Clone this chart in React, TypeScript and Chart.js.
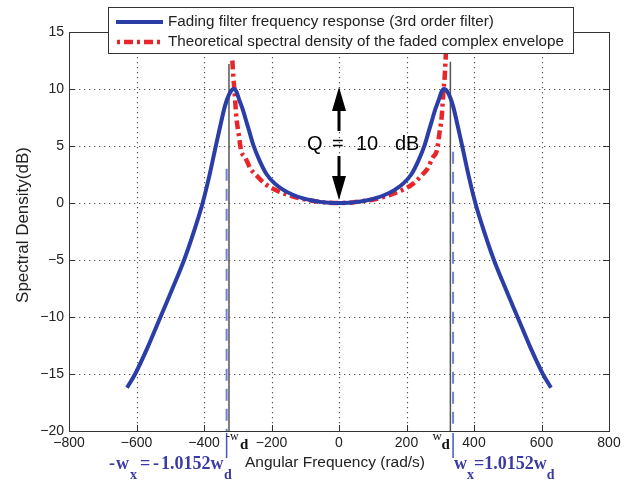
import React, { useEffect, useRef } from "react";
import { Chart, registerables } from "chart.js";

Chart.register(...registerables);

// Fading filter frequency response (3rd order filter)
const blueX = [-628, -604, -566, -529, -494, -459, -431, -404, -384, -365, -350, -338, -326, -316, -310, -303, -295, -285, -278, -266, -254, -235, -214, -190, -165, -135, -106, -80, -55, -28, 0, 28, 55, 80, 106, 135, 165, 190, 214, 235, 254, 266, 278, 285, 295, 303, 310, 316, 326, 338, 350, 365, 384, 404, 431, 459, 494, 529, 566, 604, 628];
const blueY = [-16.2, -15, -12.6, -10, -7.55, -5, -2.6, 0, 2.4, 5, 7.0, 8.5, 9.5, 9.95, 10, 9.7, 9.0, 8.2, 7.5, 6.3, 5.1, 3.7, 2.5, 1.7, 1.15, 0.7, 0.4, 0.22, 0.1, 0.03, 0, 0.03, 0.1, 0.22, 0.4, 0.7, 1.15, 1.7, 2.5, 3.7, 5.1, 6.3, 7.5, 8.2, 9.0, 9.7, 10, 9.95, 9.5, 8.5, 7.0, 5, 2.4, 0, -2.6, -5, -7.55, -10, -12.6, -15, -16.2];

// Theoretical spectral density of the faded complex envelope
const redX = [-316, -313, -310, -304, -297, -290, -278, -262, -244, -220, -185, -150, -116, -80, -40, 0, 40, 80, 116, 150, 185, 220, 244, 262, 278, 290, 297, 304, 310, 313, 317];
const redY = [12.5, 11, 10, 7.5, 6, 4.6, 4.0, 3.0, 2.4, 1.7, 1.1, 0.7, 0.4, 0.2, 0.05, 0, 0.05, 0.2, 0.4, 0.7, 1.1, 1.7, 2.4, 3.0, 4.0, 4.6, 6, 7.5, 10, 11, 13.3];

const seriesLabels = [
  "Fading filter frequency response (3rd order filter)",
  "Theoretical spectral density of the faded complex envelope",
];

// marker lines: -wd, wd (gray) and -wx, wx (blue dashed)
const wdX = [-326, 330];
const wdTop = [12.2, 12.4];
const wxX = [-333, 338];
const wxTop = [3, 4.5];

const xMin = -800, xMax = 800, xStep = 200;
const yMin = -20, yMax = 15, yStep = 5;

const BLUE = "#2b3ea8";
const RED = "#e8262a";
const SANS = "'Liberation Sans', Arial, Helvetica, sans-serif";
const SERIF = "'Liberation Serif', 'Times New Roman', serif";

const minus = (v: number) => String(v).replace("-", "\u2212");

const annot = {
  id: "annot",
  beforeDatasetsDraw(chart: any) {
    const { ctx, chartArea: a, scales } = chart;
    const x = scales.x, y = scales.y;
    ctx.save();
    // dotted grid
    ctx.strokeStyle = "#555";
    ctx.lineWidth = 1.2;
    ctx.setLineDash([1.3, 3.7]);
    x.ticks.forEach((t: any) => {
      if (t.value <= xMin || t.value >= xMax) return;
      const px = Math.round(x.getPixelForValue(t.value)) + 0.5;
      ctx.beginPath(); ctx.moveTo(px, a.top); ctx.lineTo(px, a.bottom); ctx.stroke();
    });
    y.ticks.forEach((t: any) => {
      if (t.value <= yMin || t.value >= yMax) return;
      const py = Math.round(y.getPixelForValue(t.value)) + 0.5;
      ctx.beginPath(); ctx.moveTo(a.left, py); ctx.lineTo(a.right, py); ctx.stroke();
    });
    // wx dashed blue lines
    ctx.setLineDash([12, 8]);
    ctx.strokeStyle = "#7282d2";
    ctx.lineWidth = 2;
    wxX.forEach((v, i) => {
      const px = x.getPixelForValue(v);
      ctx.beginPath(); ctx.moveTo(px, y.getPixelForValue(wxTop[i])); ctx.lineTo(px, a.bottom); ctx.stroke();
    });
    ctx.setLineDash([]);
    ctx.strokeStyle = "#4656c0";
    ctx.lineWidth = 1.5;
    wxX.forEach((v) => {
      const px = x.getPixelForValue(v);
      ctx.beginPath(); ctx.moveTo(px, a.bottom + 2); ctx.lineTo(px, a.bottom + 27); ctx.stroke();
    });
    // wd gray lines
    ctx.strokeStyle = "#555";
    ctx.lineWidth = 1.5;
    wdX.forEach((v, i) => {
      const px = x.getPixelForValue(v);
      ctx.beginPath(); ctx.moveTo(px, y.getPixelForValue(wdTop[i])); ctx.lineTo(px, a.bottom); ctx.stroke();
    });
    ctx.restore();
  },
  afterDraw(chart: any) {
    const { ctx, chartArea: a, scales } = chart;
    const x = scales.x, y = scales.y;
    ctx.save();
    // axes box
    ctx.strokeStyle = "#333";
    ctx.lineWidth = 1;
    ctx.strokeRect(Math.round(a.left) + 0.5, Math.round(a.top) + 0.5, Math.round(a.right - a.left), Math.round(a.bottom - a.top));
    // inward ticks
    const tl = 6;
    ctx.beginPath();
    x.ticks.forEach((t: any) => {
      const px = Math.round(x.getPixelForValue(t.value)) + 0.5;
      ctx.moveTo(px, a.bottom); ctx.lineTo(px, a.bottom - tl);
      ctx.moveTo(px, a.top); ctx.lineTo(px, a.top + tl);
    });
    y.ticks.forEach((t: any) => {
      const py = Math.round(y.getPixelForValue(t.value)) + 0.5;
      ctx.moveTo(a.left, py); ctx.lineTo(a.left + tl, py);
      ctx.moveTo(a.right, py); ctx.lineTo(a.right - tl, py);
    });
    ctx.stroke();

    // Q annotation arrows
    const ax = x.getPixelForValue(0);
    const topY = y.getPixelForValue(10) - 2;
    const botY = y.getPixelForValue(0) - 3;
    ctx.fillStyle = "#000";
    ctx.strokeStyle = "#000";
    ctx.lineWidth = 3;
    ctx.beginPath(); ctx.moveTo(ax, topY + 22); ctx.lineTo(ax, topY + 44); ctx.stroke();
    ctx.beginPath(); ctx.moveTo(ax, topY); ctx.lineTo(ax - 7, topY + 24); ctx.lineTo(ax + 7, topY + 24); ctx.closePath(); ctx.fill();
    ctx.beginPath(); ctx.moveTo(ax, botY - 44); ctx.lineTo(ax, botY - 22); ctx.stroke();
    ctx.beginPath(); ctx.moveTo(ax, botY); ctx.lineTo(ax - 7, botY - 24); ctx.lineTo(ax + 7, botY - 24); ctx.closePath(); ctx.fill();
    ctx.font = `20px ${SANS}`;
    ctx.textAlign = "left";
    ctx.textBaseline = "middle";
    const qy = y.getPixelForValue(5) - 2;
    ctx.fillText("Q", ax - 32, qy);
    ctx.fillText("=", ax - 7, qy);
    ctx.fillText("10", ax + 17, qy);
    ctx.fillText("dB", ax + 56, qy);

    // legend
    const lx = 108, ly = 7, lw = 465, lh = 46;
    ctx.fillStyle = "#fff";
    ctx.fillRect(lx, ly, lw, lh);
    ctx.strokeStyle = "#333";
    ctx.lineWidth = 1;
    ctx.strokeRect(lx + 0.5, ly + 0.5, lw, lh);
    ctx.lineWidth = 4;
    ctx.strokeStyle = BLUE;
    ctx.beginPath(); ctx.moveTo(116, 22); ctx.lineTo(163, 22); ctx.stroke();
    ctx.strokeStyle = RED;
    ctx.lineWidth = 4.5;
    ctx.setLineDash([9, 4, 3, 4]);
    ctx.lineDashOffset = 12;
    ctx.beginPath(); ctx.moveTo(116, 42); ctx.lineTo(163, 42); ctx.stroke();
    ctx.setLineDash([]);
    ctx.fillStyle = "#222";
    ctx.font = `15.2px ${SANS}`;
    ctx.fillText(seriesLabels[0], 168, 22);
    ctx.fillText(seriesLabels[1], 168, 42);

    // axis titles
    ctx.fillStyle = "#222";
    ctx.font = `15.5px ${SANS}`;
    ctx.textAlign = "center";
    ctx.fillText("Angular Frequency (rad/s)", 335, 463);
    ctx.save();
    ctx.translate(23, 225);
    ctx.rotate(-Math.PI / 2);
    ctx.font = `17px ${SANS}`;
    ctx.fillText("Spectral Density(dB)", 0, 0);
    ctx.restore();

    // -wd / wd labels
    ctx.textAlign = "left";
    ctx.textBaseline = "alphabetic";
    ctx.fillStyle = "#111";
    const lwd = x.getPixelForValue(wdX[0]);
    const rwd = x.getPixelForValue(wdX[1]);
    ctx.font = `12px ${SERIF}`;
    ctx.fillText("-w", lwd - 3, 440);
    ctx.font = `bold 15px ${SERIF}`;
    ctx.fillText("d", lwd + 11, 449);
    ctx.font = `13px ${SERIF}`;
    ctx.fillText("w", rwd - 18, 440);
    ctx.font = `bold 15px ${SERIF}`;
    ctx.fillText("d", rwd - 9, 449);

    // wx labels (blue)
    const mainFont = `bold 18px ${SERIF}`;
    const subFont = `bold 14px ${SERIF}`;
    ctx.fillStyle = "#3a3aa4";
    const leftParts: [string, number, boolean][] = [
      ["-", 109, false], ["w", 116, false], ["x", 130, true], ["=", 140, false],
      ["-", 153, false], ["1.0152w", 161, false], ["d", 224, true],
    ];
    leftParts.forEach(([s, px, sub]) => {
      ctx.font = sub ? subFont : mainFont;
      ctx.fillText(s, px, sub ? 479 : 469);
    });
    let cx = 454;
    ([["w", false], ["x", true], ["=1.0152w", false], ["d", true]] as [string, boolean][]).forEach(([s, sub]) => {
      ctx.font = sub ? subFont : mainFont;
      ctx.fillText(s, cx, sub ? 479 : 469);
      cx += ctx.measureText(s).width;
    });
    ctx.restore();
  },
};

export default function App() {
  const ref = useRef<HTMLCanvasElement>(null);
  useEffect(() => {
    if (!ref.current) return;
    const chart = new Chart(ref.current, {
      type: "line",
      data: {
        datasets: [
          {
            label: seriesLabels[0],
            data: blueX.map((v, i) => ({ x: v, y: blueY[i] })),
            borderColor: BLUE,
            borderWidth: 4,
            pointRadius: 0,
            fill: false,
            cubicInterpolationMode: "monotone",
          },
          {
            label: seriesLabels[1],
            data: redX.map((v, i) => ({ x: v, y: redY[i] })),
            borderColor: RED,
            borderWidth: 4.5,
            borderDash: [9, 4, 3, 4],
            pointRadius: 0,
            fill: false,
            cubicInterpolationMode: "monotone",
          },
        ],
      },
      options: {
        animation: false,
        responsive: false,
        events: [],
        layout: { padding: { top: 32, right: 18, left: 0, bottom: 0 } },
        plugins: { legend: { display: false }, tooltip: { enabled: false } },
        scales: {
          x: {
            type: "linear",
            min: xMin,
            max: xMax,
            grid: { display: false, drawTicks: false },
            border: { display: false },
            ticks: {
              stepSize: xStep,
              padding: 4,
              color: "#222",
              font: { family: SANS, size: 14 },
              maxRotation: 0,
              autoSkip: false,
              callback: (v: any) => minus(v),
            },
            afterFit: (s: any) => { s.height = 482 - 431; },
          },
          y: {
            type: "linear",
            min: yMin,
            max: yMax,
            grid: { display: false, drawTicks: false },
            border: { display: false },
            ticks: {
              stepSize: yStep,
              padding: 5,
              color: "#222",
              font: { family: SANS, size: 14 },
              autoSkip: false,
              callback: (v: any) => minus(v),
            },
            afterFit: (s: any) => { s.width = 69; },
          },
        },
      } as any,
      plugins: [annot],
    });
    return () => chart.destroy();
  }, []);
  return (
    <div style={{ position: "absolute", left: 0, top: 0, width: 627, height: 482, background: "#fff" }}>
      <canvas ref={ref} width={627} height={482} />
    </div>
  );
}
